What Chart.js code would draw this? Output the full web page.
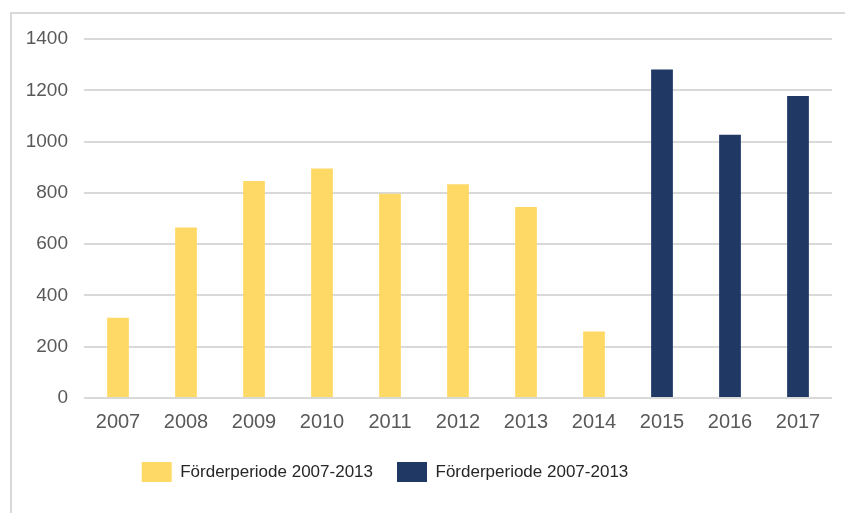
<!DOCTYPE html>
<html>
<head>
<meta charset="utf-8">
<script src="https://cdn.jsdelivr.net/npm/chart.js@4/dist/chart.umd.min.js"></script>
<style>
    html, body { margin: 0; padding: 0; background: #fff; }
    #frame {
        position: absolute; left: 10px; top: 12px; width: 900px; height: 600px;
        border-left: 2px solid #d9d9d9; border-top: 2px solid #d9d9d9;
    }
    #wrap { position: absolute; left: 0; top: 0; width: 845px; height: 513px; }
</style>
</head>
<body>
<div id="frame"></div>
<div id="wrap"><canvas id="foerderChart"></canvas></div>
<script>
var years = ["2007", "2008", "2009", "2010", "2011", "2012", "2013", "2014", "2015", "2016", "2017"];
var periodOld = [313, 665, 846, 895, 797, 834, 745, 259, null, null, null];
var periodNew = [null, null, null, null, null, null, null, null, 1281, 1027, 1178];
var periodLabels = ["Förderperiode 2007-2013", "Förderperiode 2007-2013"];
var yTicks = [0, 200, 400, 600, 800, 1000, 1200, 1400];

// shifts the legend row a bit to the left of the canvas centre
var legendShift = {
    id: 'legendShift',
    afterLayout: function (chart) {
        chart.legend.left -= 31;
        chart.legend.right -= 31;
    }
};

var ctx = document.getElementById('foerderChart').getContext('2d');
new Chart(ctx, {
    type: 'bar',
    data: {
        labels: years,
        datasets: [{
            label: periodLabels[0],
            data: periodOld,
            backgroundColor: '#ffd966',
            grouped: false
        }, {
            label: periodLabels[1],
            data: periodNew,
            backgroundColor: '#203864',
            grouped: false
        }]
    },
    options: {
        responsive: true,
        maintainAspectRatio: false,
        animation: false,
        layout: { padding: { left: 0, right: 13, top: 39, bottom: 21 } },
        datasets: { bar: { categoryPercentage: 1, barPercentage: 0.32 } },
        scales: {
            x: {
                grid: { display: false },
                border: { display: false },
                ticks: { color: '#595959', padding: 4, font: { family: 'Liberation Sans', size: 20 } },
                afterFit: function (scale) { scale.height = 40; }
            },
            y: {
                min: 0,
                max: 1400,
                afterBuildTicks: function (scale) {
                    scale.ticks = yTicks.map(function (v) { return { value: v }; });
                },
                grid: { color: '#d9d9d9', lineWidth: 2, drawTicks: false },
                border: { display: false },
                ticks: {
                    color: '#595959',
                    padding: 16,
                    font: { family: 'Liberation Sans', size: 19 },
                    callback: function (value) { return String(value); }
                },
                afterFit: function (scale) { scale.width = 84; }
            }
        },
        plugins: {
            tooltip: { enabled: false },
            legend: {
                position: 'bottom',
                labels: {
                    boxWidth: 30,
                    boxHeight: 20,
                    padding: 24,
                    color: '#262626',
                    font: { family: 'Liberation Sans', size: 17 }
                }
            }
        }
    },
    plugins: [legendShift]
});
</script>
</body>
</html>
